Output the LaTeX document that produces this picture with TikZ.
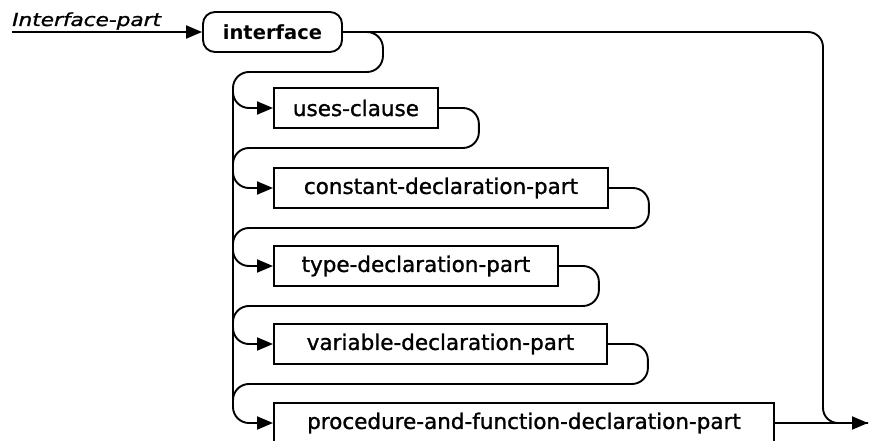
\documentclass[tikz,border=0pt]{standalone}
\usepackage{fontspec}
\setmainfont{DejaVu Sans}
\newfontfamily\boxfont[FakeBold=1.2]{DejaVu Sans}
\usepackage{tikz}
\usetikzlibrary{arrows.meta}

\begin{document}
\begin{tikzpicture}[
    x=1pt, y=-1pt,
    flow/.style={line width=1.9pt, rounded corners=16pt},
    tip/.style={-{Triangle[length=16pt,width=13pt]}},
    keyword/.style={
        draw, line width=1.9pt, rounded corners=12pt,
        minimum height=40pt, inner sep=0pt,
        font=\bfseries\fontsize{19.5}{20}\selectfont
    },
    part/.style={
        draw, line width=1.9pt, anchor=west,
        minimum height=40pt, inner sep=0pt,
        font=\boxfont\fontsize{21.5}{22}\selectfont
    }
]

    \useasboundingbox (0,0) rectangle (870,441);

    %------------------------------------------------
    % Name of the rule
    %------------------------------------------------

    \node[
        anchor=base west,
        inner sep=0pt,
        font=\boxfont\itshape\fontsize{18}{18}\selectfont
    ]
    (title) at (12,26)
    {\scalebox{1.2}[1]{Interface-part}};

    \coordinate (entry) at (12,32);
    \coordinate (exit) at (868,423);
    \coordinate (trunk) at (233,0);

    %------------------------------------------------
    % Boxes
    %------------------------------------------------

    \node[keyword, minimum width=139pt] (iface) at (272.5,32) {interface};

    \node[part, minimum width=164pt] (uses) at (273,108) {uses-clause};
    \node[part, minimum width=334pt] (const) at (273,188) {constant-declaration-part};
    \node[part, minimum width=284pt] (type) at (273,266) {type-declaration-part};
    \node[part, minimum width=333pt] (var) at (273,344) {variable-declaration-part};
    \node[part, minimum width=500pt] (proc) at (273,423)
        {procedure-and-function-declaration-part};

    %------------------------------------------------
    % Entry and exit
    %------------------------------------------------

    \draw[flow,tip] (entry) -- (iface.west);

    \draw[flow, rounded corners=15pt]
        (iface.east) -- (823,32) -- (823,423) -- (exit);

    \draw[flow,tip] (proc.east) -- (exit);

    %------------------------------------------------
    % Loops back to the trunk
    %------------------------------------------------

    \draw[flow] (233,88) -- (233,407);

    \draw[flow,tip]
        (iface.east) -- ++(40,0) -- ++(0,40) coordinate (ret1)
        -- (ret1 -| trunk) |- (uses.west);

    \draw[flow,tip]
        (uses.east) -- ++(40,0) -- ++(0,40) coordinate (ret2)
        -- (ret2 -| trunk) |- (const.west);

    \draw[flow,tip]
        (const.east) -- ++(40,0) -- ++(0,40) coordinate (ret3)
        -- (ret3 -| trunk) |- (type.west);

    \draw[flow,tip]
        (type.east) -- ++(40,0) -- ++(0,40) coordinate (ret4)
        -- (ret4 -| trunk) |- (var.west);

    \draw[flow,tip]
        (var.east) -- ++(40,0) -- ++(0,40) coordinate (ret5)
        -- (ret5 -| trunk) |- (proc.west);

\end{tikzpicture}
\end{document}
